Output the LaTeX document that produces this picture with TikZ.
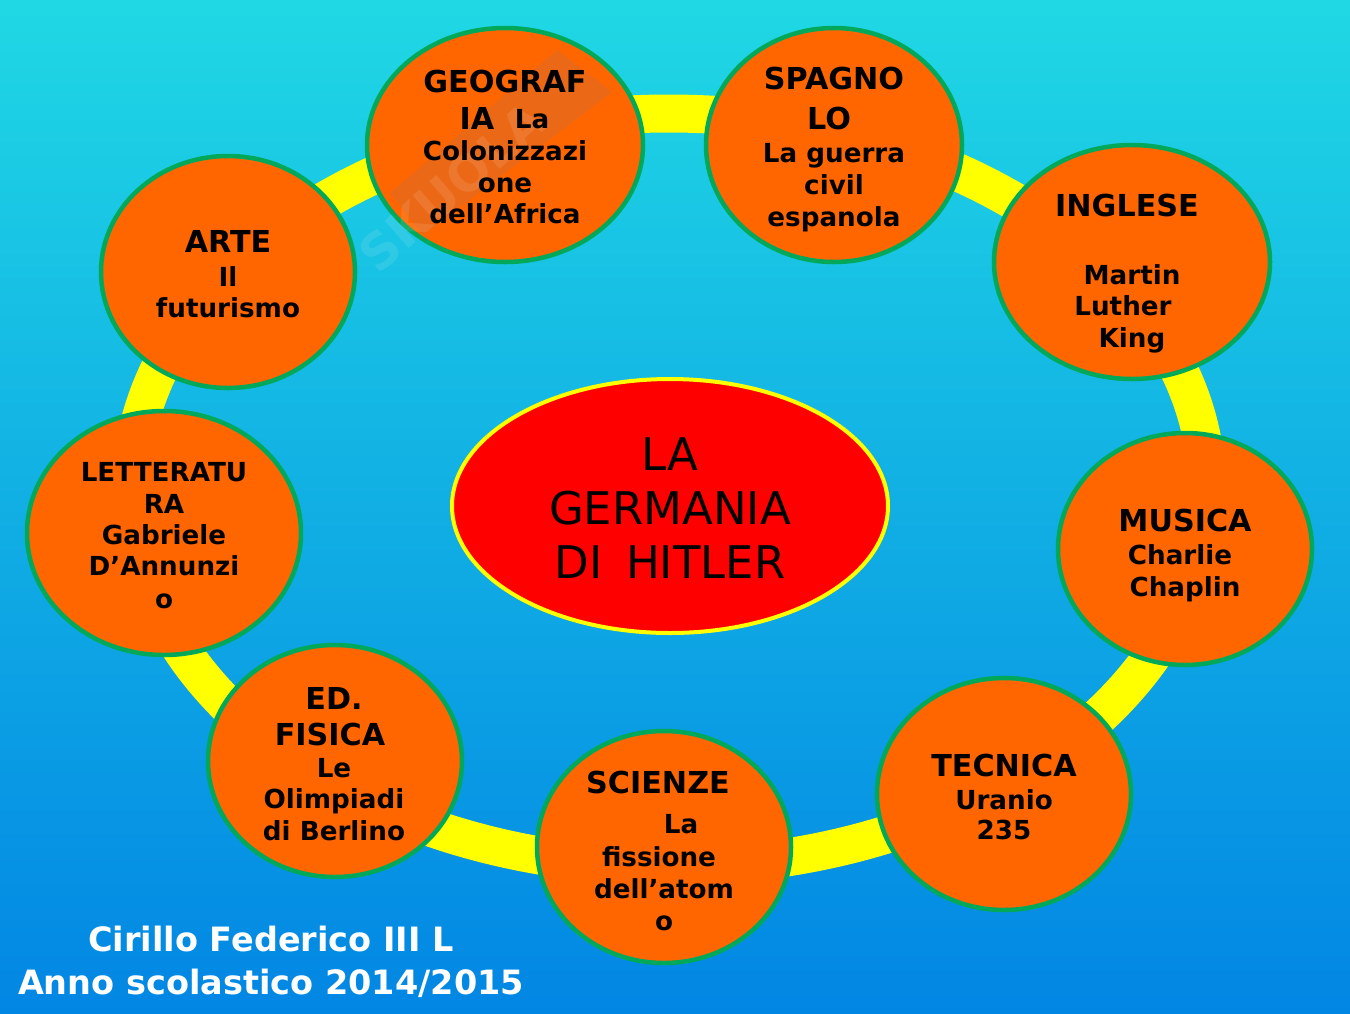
\documentclass[tikz,border=0pt]{standalone}
\usepackage{fontspec}
\setmainfont{DejaVu Sans}
\usetikzlibrary{shapes.geometric}
\definecolor{bgtop}{RGB}{32,216,228}
\definecolor{bgbot}{RGB}{2,134,228}
\definecolor{disc}{RGB}{255,102,0}
\definecolor{rim}{RGB}{0,168,90}
\definecolor{ringy}{RGB}{255,255,0}
\definecolor{pure}{RGB}{255,0,0}
\definecolor{wband}{RGB}{180,110,80}
\tikzset{
  x=1pt,y=-1pt,
  subject/.style={ellipse,draw=rim,line width=4.5pt,fill=disc,inner sep=0pt},
  head/.style={anchor=base,inner sep=0pt,font=\fontsize{30.2}{32}\bfseries\selectfont,text=black},
  body/.style={anchor=base,inner sep=0pt,font=\fontsize{26.2}{28}\bfseries\selectfont,text=black},
  title/.style={anchor=base,inner sep=0pt,font=\fontsize{45}{48}\selectfont,text=black},
  foot/.style={anchor=base,inner sep=0pt,font=\fontsize{33.5}{36}\bfseries\selectfont,text=white},
}
\newcommand{\disc}[5]{\node[subject,minimum width=#4pt,minimum height=#5pt] (#1) at (#2,#3) {};}
\newcommand{\hd}[4]{\node[head] (#1) at (#2,#3) {#4};}
\newcommand{\bd}[4]{\node[body] (#1) at (#2,#3) {#4};}
\begin{document}
\begin{tikzpicture}
\useasboundingbox (0,0) rectangle (1350,1013);
\shade[top color=bgtop,bottom color=bgbot] (0,0) rectangle (1350,1013);
\draw[ringy,line width=38pt] (669,490) ellipse [x radius=538,y radius=376.5];
\disc{geo}{505}{145}{276}{234}
\disc{spa}{834}{145}{256}{234}
\disc{ing}{1132}{262}{276}{234}
\disc{mus}{1185}{549}{254}{232}
\disc{tec}{1004}{794}{254}{232}
\disc{sci}{664}{847}{254}{232}
\disc{fis}{335}{761}{254}{232}
\disc{let}{164}{533}{274}{244}
\disc{art}{228}{272}{254}{232}
\begin{scope}
\clip (505,145) ellipse [x radius=136,y radius=115];
\fill[wband,opacity=.28] (557,50) -- (612,92) -- (423,235) -- (390,193) -- cycle;
\end{scope}
\node[white,opacity=.1,rotate=41,inner sep=0pt,font=\fontsize{50}{52}\bfseries\selectfont] (mark) at (452,187) {SKUOLA};
\node[ellipse,draw=ringy,line width=4pt,fill=pure,minimum width=436pt,minimum height=254pt,inner sep=0pt] (centre) at (670,506) {};
\node[title] (t1) at (670,470) {LA};
\node[title] (t2) at (670,524) {GERMANIA};
\node[title] (t3) at (670,578) {DI\hspace{.525em}HITLER};
\hd{g1}{505}{92}{GEOGRAF}
\hd{g2}{477}{129}{IA}
\bd{g3}{532}{128}{La}
\bd{g4}{505}{160}{Colonizzazi}
\bd{g5}{505}{192}{one}
\bd{g6}{505}{223}{dell’Africa}
\hd{s1}{834}{89}{SPAGNO}
\hd{s2}{829}{129}{LO}
\bd{s3}{834}{162}{La guerra}
\bd{s4}{834}{194}{civil}
\bd{s5}{834}{226}{espanola}
\hd{i1}{1127}{216}{INGLESE}
\bd{i2}{1132}{284}{Martin}
\bd{i3}{1123}{315}{Luther}
\bd{i4}{1132}{347}{King}
\hd{a1}{228}{252}{ARTE}
\bd{a2}{228}{286}{Il}
\bd{a3}{228}{317}{futurismo}
\bd{l1}{164}{481}{LETTERATU}
\bd{l2}{164}{513}{RA}
\bd{l3}{164}{544}{Gabriele}
\bd{l4}{164}{575}{D’Annunzi}
\bd{l5}{164}{608}{o}
\hd{m1}{1185}{531}{MUSICA}
\bd{m2}{1180}{564}{Charlie}
\bd{m3}{1185}{596}{Chaplin}
\hd{f1}{334}{709}{ED.}
\hd{f2}{330}{745}{FISICA}
\bd{f3}{334}{777}{Le}
\bd{f4}{334}{808}{Olimpiadi}
\bd{f5}{334}{840}{di Berlino}
\hd{c1}{1004}{776}{TECNICA}
\bd{c2}{1004}{809}{Uranio}
\bd{c3}{1004}{839}{235}
\hd{n1}{658}{793}{SCIENZE}
\bd{n2}{681}{833}{La}
\bd{n3}{659}{866}{fissione}
\bd{n4}{664}{898}{dell’atom}
\bd{n5}{664}{930}{o}
\node[foot] (w1) at (271,951) {Cirillo Federico III L};
\node[foot] (w2) at (271,994) {Anno scolastico 2014/2015};
\end{tikzpicture}
\end{document}
